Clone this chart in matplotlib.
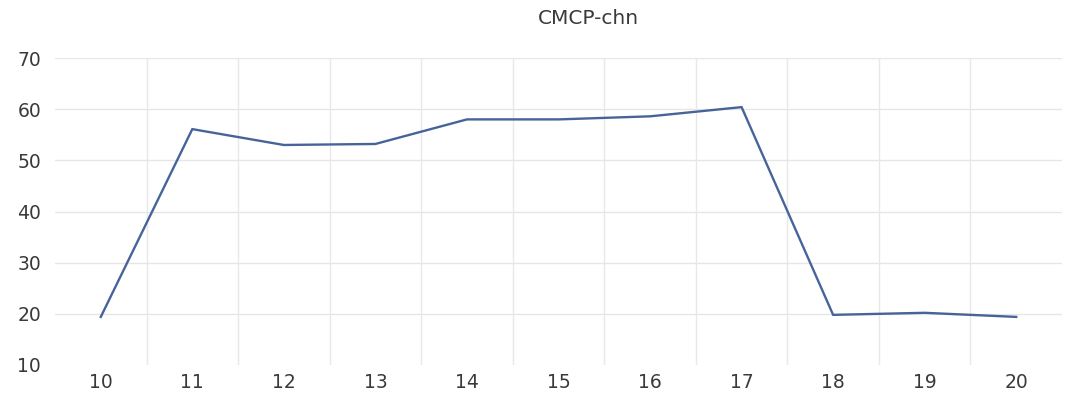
import matplotlib
matplotlib.use("Agg")
import matplotlib.pyplot as plt

# Series data
categories = [10, 11, 12, 13, 14, 15, 16, 17, 18, 19, 20]
values = [19.4, 56.1, 53.0, 53.2, 58.0, 58.0, 58.6, 60.4, 19.8, 20.2, 19.4]
y_ticks = [10, 20, 30, 40, 50, 60, 70]
title = "CMCP-chn"

plt.rcParams["font.family"] = ["DejaVu Sans"]

fig = plt.figure(figsize=(10.78, 3.97), dpi=100)
ax = fig.add_axes([55 / 1078, 32 / 397, (1062 - 55) / 1078, (365 - 58) / 397])

ax.plot(categories, values, color="#47649a", linewidth=1.7, solid_joinstyle="miter")

ax.set_xlim(categories[0] - 0.5, categories[-1] + 0.5)
ax.set_ylim(y_ticks[0], y_ticks[-1])
ax.set_xticks(categories)
ax.set_xticklabels([str(c) for c in categories])
ax.set_yticks(y_ticks)

# horizontal gridlines at each major tick, vertical lines between categories
for y in y_ticks[1:]:
    ax.axhline(y, color="#e6e6e6", linewidth=1.0, zorder=0)
for c in categories[:-1]:
    ax.axvline(c + 0.5, color="#e8e8e8", linewidth=1.0, zorder=0)

for s in ax.spines.values():
    s.set_visible(False)
ax.tick_params(axis="both", length=0, labelsize=13.5, colors="#3a3a3a")
ax.tick_params(axis="x", pad=6)
ax.tick_params(axis="y", pad=10)

fig.text(588 / 1078, 1 - 18 / 397, title, ha="center", va="center",
         fontsize=14.5, color="#3a3a3a")

fig.savefig("out.png", dpi=100, facecolor="white")
